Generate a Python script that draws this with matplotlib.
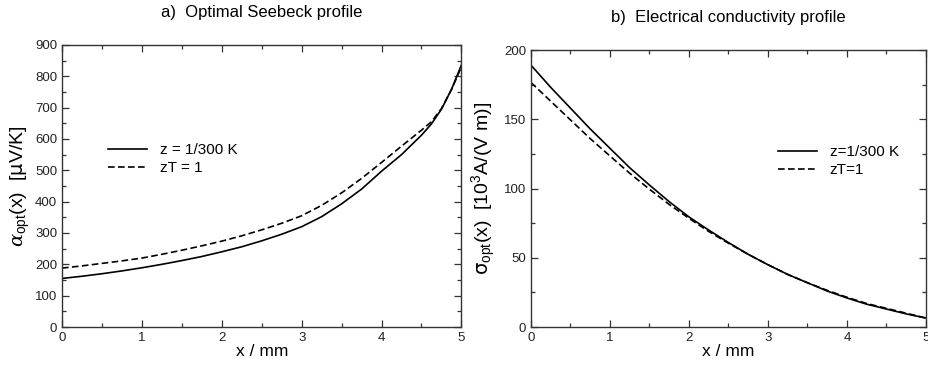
import matplotlib
matplotlib.use('Agg')
import matplotlib.pyplot as plt
from matplotlib.ticker import MultipleLocator

plt.rcParams['font.family'] = ['Liberation Sans', 'DejaVu Sans']
plt.rcParams['mathtext.fontset'] = 'custom'
plt.rcParams['mathtext.rm'] = 'Liberation Sans'
plt.rcParams['mathtext.it'] = 'DejaVu Serif:italic'
plt.rcParams['mathtext.sf'] = 'DejaVu Sans'

# a) optimal Seebeck profile
x_a = [0, 0.25, 0.5, 0.75, 1, 1.25, 1.5, 1.75, 2, 2.25, 2.5, 2.75, 3, 3.25,
       3.5, 3.75, 4, 4.25, 4.5, 4.625, 4.75, 4.875, 5]
alpha_z = [155, 162, 170, 179, 189, 200, 212, 225, 240, 256, 275, 296, 320, 352,
           393, 440, 497, 550, 612, 648, 695, 758, 836]
alpha_zT = [188, 195, 203, 211, 220, 232, 245, 259, 274, 291, 310, 331, 355, 388,
            428, 474, 525, 577, 628, 655, 697, 757, 830]

# b) electrical conductivity profile
x_b = [0, 0.25, 0.5, 0.75, 1, 1.25, 1.5, 1.75, 2, 2.25, 2.5, 2.75, 3, 3.25,
       3.5, 3.75, 4, 4.25, 4.5, 4.75, 5]
sigma_z = [189, 173, 158, 143, 129, 115, 102.5, 90.5, 79.5, 70, 61, 52.5, 45, 38,
           32, 26, 21, 16.5, 13, 9.5, 6.5]
sigma_zT = [176.5, 163, 149.5, 136, 123.5, 111, 99.5, 88.5, 78.5, 69, 60.5, 52.5, 45, 38,
            32, 26.5, 21.5, 17, 13.5, 10, 6.5]

fig = plt.figure(figsize=(9.29, 3.65), dpi=100)
ax1 = fig.add_axes([0.0667, 0.104, 0.430, 0.773])
ax2 = fig.add_axes([0.5716, 0.104, 0.425, 0.759])

def style(ax, ymaj, ymin):
    ax.set_xlim(0, 5)
    ax.xaxis.set_major_locator(MultipleLocator(1))
    ax.xaxis.set_minor_locator(MultipleLocator(0.5))
    ax.yaxis.set_major_locator(MultipleLocator(ymaj))
    ax.yaxis.set_minor_locator(MultipleLocator(ymin))
    ax.tick_params(which='both', direction='in', top=True, right=True,
                   labelsize=9.5, colors='#333333', labelcolor='#222222')
    ax.tick_params(which='major', length=5, width=0.9)
    ax.tick_params(which='minor', length=3, width=0.9)
    for s in ax.spines.values():
        s.set_linewidth(1.0)
        s.set_color('#333333')
    ax.set_xlabel('x / mm', fontsize=12.5, labelpad=0)

ax1.plot(x_a, alpha_z, color='black', lw=1.2, label='z = 1/300 K')
ax1.plot(x_a, alpha_zT, color='black', lw=1.2, ls=(0, (4, 2)), label='zT = 1')
style(ax1, 100, 50)
ax1.set_ylim(0, 900)
ax1.set_ylabel(r'$\alpha_{\rm opt}$(x)  [$\mathsf{\mu}$V/K]', fontsize=14, labelpad=2)
ax1.legend(loc='upper left', bbox_to_anchor=(0.08, 0.70), frameon=False,
           fontsize=11, handlelength=2.6, labelspacing=0.25)

ax2.plot(x_b, sigma_z, color='black', lw=1.2, label='z=1/300 K')
ax2.plot(x_b, sigma_zT, color='black', lw=1.2, ls=(0, (4, 2)), label='zT=1')
style(ax2, 50, 25)
ax2.set_ylim(0, 200)
ax2.set_ylabel(r'$\mathsf{\sigma}_{\rm opt}$(x)  [10$^3$A/(V m)]', fontsize=14, labelpad=4)
ax2.legend(loc='upper left', bbox_to_anchor=(0.59, 0.705), frameon=False,
           fontsize=11, handlelength=2.6, labelspacing=0.25)

fig.text(0.282, 0.965, 'a)  Optimal Seebeck profile', ha='center', va='center', fontsize=12)
fig.text(0.784, 0.953, 'b)  Electrical conductivity profile', ha='center', va='center', fontsize=12)

fig.savefig('out.png', dpi=100)
